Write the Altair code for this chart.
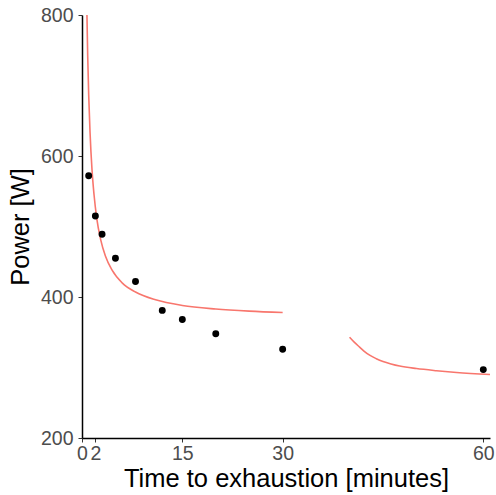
import altair as alt
import pandas as pd

# observed points
obs_time = [1, 2, 3, 5, 8, 12, 15, 20, 30, 60]
obs_power = [572, 515, 489, 455, 422, 381, 368, 348, 326, 297]

# fitted curve, segment 1
fit1_time = [0.74, 0.85, 1.0, 1.2, 1.5, 1.8, 2.2, 2.8, 3.5, 4.5, 6, 8, 11, 15, 20, 25, 30]
fit1_power = [800, 743, 687, 634, 580, 545, 512, 481, 458, 438, 420, 407, 396, 388, 383, 380, 378]

# fitted curve, segment 2
fit2_time = [40, 40.7, 41.5, 42.2, 43, 44, 45, 46.2, 47.5, 50, 53, 56, 61]
fit2_power = [343, 336, 329, 323, 317.5, 312.5, 308.5, 305, 302, 298.5, 295.5, 293, 290]

x_ticks = [0, 2, 15, 30, 60]
y_ticks = [200, 400, 600, 800]

pts = pd.DataFrame({"t": obs_time, "p": obs_power})
fit = pd.DataFrame({
    "t": fit1_time + fit2_time,
    "p": fit1_power + fit2_power,
    "seg": ["a"] * len(fit1_time) + ["b"] * len(fit2_time),
})

FONT = "Liberation Sans"

xscale = alt.Scale(domain=[0, 61], nice=False, zero=False)
yscale = alt.Scale(domain=[200, 800], nice=False, zero=False)

xaxis = alt.Axis(values=x_ticks, title="Time to exhaustion [minutes]", grid=False,
                 labelOverlap=False, labelFlush=False, tickSize=4, tickColor="#333333",
                 labelColor="#4D4D4D", labelFontSize=19.5, labelFont=FONT, labelPadding=2,
                 titleFont=FONT, titleFontSize=25.5, titleFontWeight="normal", titleColor="black",
                 titleBaseline="alphabetic", titleY=48.5,
                 domainColor="black", domainWidth=1.5)
yaxis = alt.Axis(values=y_ticks, title="Power [W]", grid=False,
                 labelOverlap=False, labelFlush=False, tickSize=4, tickColor="#333333",
                 labelColor="#4D4D4D", labelFontSize=19.5, labelFont=FONT, labelPadding=5,
                 titleFont=FONT, titleFontSize=25.5, titleFontWeight="normal", titleColor="black",
                 titleBaseline="alphabetic", titleX=-54,
                 domainColor="black", domainWidth=1.5)

line = alt.Chart(fit).mark_line(color="#F8766D", strokeWidth=1.6, interpolate="monotone").encode(
    x=alt.X("t:Q", scale=xscale, axis=xaxis),
    y=alt.Y("p:Q", scale=yscale, axis=yaxis),
    detail="seg:N",
)

dots = alt.Chart(pts).mark_circle(color="black", opacity=1, size=48).encode(
    x=alt.X("t:Q", scale=xscale),
    y=alt.Y("p:Q", scale=yscale),
)

chart = alt.layer(line, dots).properties(
    width=408, height=423,
    autosize=alt.AutoSizeParams(type="none"),
    padding={"left": 82, "top": 15, "right": 6, "bottom": 57},
    background="white",
).configure_view(stroke=None)

chart.save("out.html", embed_options={"renderer": "svg", "actions": False})
